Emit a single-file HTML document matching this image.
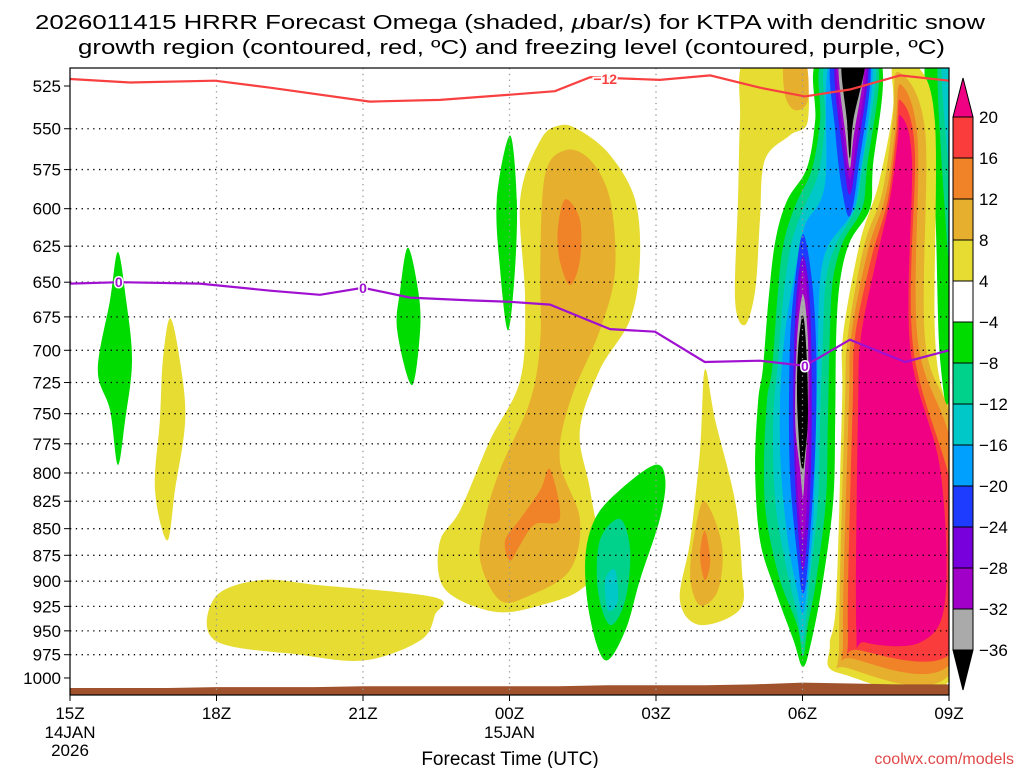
<!DOCTYPE html>
<html><head><meta charset="utf-8"><style>
html,body{margin:0;padding:0;background:#fff;}
svg{display:block;font-family:"Liberation Sans",sans-serif;}
</style></head><body>
<svg id="chart" width="1024" height="768" viewBox="0 0 1024 768" xmlns="http://www.w3.org/2000/svg">
<rect width="1024" height="768" fill="#fff"/>
<text x="35" y="29" font-size="20" textLength="950" lengthAdjust="spacingAndGlyphs">2026011415 HRRR Forecast Omega (shaded, <tspan font-style="italic">μ</tspan>bar/s) for KTPA with dendritic snow</text>
<text x="78" y="54" font-size="20" textLength="867" lengthAdjust="spacingAndGlyphs">growth region (contoured, red, ºC) and freezing level (contoured, purple, ºC)</text>
<g id="fills"></g>
<g id="grid"></g>
<g id="lines"></g>
<g id="axes"></g>
<g id="cbar"></g>
<text x="510" y="765" font-size="19" text-anchor="middle">Forecast Time (UTC)</text>
<text x="1014" y="764" font-size="16" text-anchor="end" fill="#e04848">coolwx.com/models</text>
</svg>
<script>
const pressureTicks=[525,550,575,600,625,650,675,700,725,750,775,800,825,850,875,900,925,950,975,1000];
const timeTickHours=[0,3,6,9,12,15,18];
const timeTickLabels=["15Z","18Z","21Z","00Z","03Z","06Z","09Z"];
const dateLabels=[[0,"14JAN"],[0,"2026"],[9,"15JAN"]];
const cbarLevels=[20,16,12,8,4,-4,-8,-12,-16,-20,-24,-28,-32,-36];
const cbarColors=["#f00082","#fa3c3c","#f08228","#e6af2d","#e6dc32","#ffffff","#00dc00","#00d28c","#00c8c8","#00a0ff","#1e3cff","#7800dc","#a000c8","#aaaaaa","#000000"];
const redHours=[0,1.23,2.97,4.1,6.14,7.58,9.01,9.93,10.65,12.08,13.11,14.13,15.05,15.97,17,18];
const redP=[521,523,522,526,534,533,530,528,520,521.5,519,526,531,527,519,522];
const purpHours=[0,1.02,2.66,4.1,5.12,6,6.96,8.19,9.01,9.83,11.06,11.98,13,14.13,15.05,15.97,17.1,18];
const purpP=[651,650,651,656,659,654,661,663,664,666,684,686,709,708,712,692,709,700];
const terrainHours=[0,1,2,3,4,5,6,7,8,9,10,11,12,13,14,15,16,17,18];
const terrainP=[1011,1011,1011,1010,1010,1010,1009,1009,1009,1009,1009,1008,1008,1008,1007,1005,1006,1007,1007];
// contour regions: [colour key, [[hour, pressure],...]]
const regions=[
["yellow",[[10.03,548],[9.63,557],[9.22,594],[9.32,663],[9.22,723],[8.6,772],[7.99,833],[7.58,861],[7.58,899],[7.99,919],[8.81,931],[9.63,924],[10.44,909],[10.85,880],[10.65,815],[10.44,764],[10.85,715],[11.47,677],[11.67,635],[11.57,594],[11.06,566],[10.44,551]]],
["lorange",[[10.14,563],[9.73,578],[9.63,635],[9.63,692],[9.42,740],[8.81,797],[8.5,841],[8.4,880],[8.81,919],[9.42,914],[10.24,889],[10.44,841],[10.03,789],[10.24,740],[10.85,685],[11.16,642],[11.06,594],[10.65,569]]],
["orange",[[10.14,594],[10.44,607],[10.44,635],[10.24,652],[10.03,635],[9.99,614]]],
["orange",[[9.83,797],[10.03,841],[9.52,846],[9.22,865],[9.01,880],[8.91,861],[9.22,841],[9.63,815]]],
["green",[[0.98,629],[1.15,663],[1.27,708],[1.13,755],[0.98,793],[0.82,747],[0.57,715],[0.82,663]]],
["yellow",[[2.05,676],[2.25,708],[2.36,755],[2.15,815],[1.99,861],[1.74,815],[1.84,755],[1.9,708]]],
["yellow",[[2.97,916],[3.89,899],[5.12,904],[7.47,916],[7.47,934],[7.17,960],[6.04,981],[4.71,975],[2.97,960]]],
["green",[[6.92,626],[7.13,656],[7.17,685],[7.0,727],[6.7,685],[6.76,656]]],
["green",[[9.01,554],[9.15,594],[9.11,642],[8.97,685],[8.81,642],[8.74,594]]],
["green",[[11.98,793],[11.26,815],[10.75,841],[10.55,880],[10.65,937],[10.96,981],[11.37,950],[11.67,899],[12.08,841],[12.19,806]]],
["teal",[[10.85,861],[11.26,841],[11.47,870],[11.37,919],[11.06,944],[10.81,909]]],
["cyan",[[10.96,899],[11.16,889],[11.22,919],[11.02,929]]],
["yellow",[[13.0,715],[13.21,755],[13.62,825],[13.76,889],[13.72,928],[12.9,944],[12.49,919],[12.7,861],[12.9,781]]],
["lorange",[[13.0,825],[13.35,865],[13.27,909],[12.9,924],[12.7,896],[12.8,852]]],
["orange",[[13.0,852],[13.11,880],[13.0,899],[12.9,875]]],
["yellow",[[13.82,510],[14.95,510],[15.11,545],[14.74,554],[14.23,569],[14.13,607],[14.03,656],[13.82,681],[13.62,663],[13.68,594],[13.72,545]]],
["lorange",[[14.64,510],[15.05,510],[15.11,533],[14.85,539],[14.64,530]]],
["green",[[15.32,510],[16.59,510],[16.44,574],[16.38,600],[15.97,622],[15.77,649],[15.69,689],[15.67,755],[15.63,824],[15.42,899],[15.19,959],[15.01,988],[14.81,959],[14.44,909],[14.13,861],[14.03,797],[14.09,740],[14.19,714],[14.3,664],[14.44,622],[14.68,595],[15.09,574],[15.26,545]]],
["teal",[[15.42,510],[16.53,510],[16.32,574],[16.22,600],[15.83,622],[15.62,649],[15.56,689],[15.52,755],[15.48,824],[15.28,899],[15.11,944],[15.01,977],[14.89,944],[14.54,899],[14.27,843],[14.21,797],[14.27,740],[14.38,714],[14.48,664],[14.6,625],[14.85,598],[15.19,575],[15.36,545]]],
["cyan",[[15.5,510],[16.48,510],[16.22,574],[16.08,600],[15.67,625],[15.48,649],[15.42,689],[15.36,755],[15.32,824],[15.15,899],[15.01,961],[14.89,932],[14.64,880],[14.44,824],[14.4,755],[14.5,708],[14.6,663],[14.74,628],[14.95,605],[15.32,578],[15.46,545]]],
["blue",[[15.56,510],[16.42,510],[16.14,587],[15.97,605],[15.52,625],[15.36,649],[15.32,689],[15.28,755],[15.22,843],[15.11,899],[15.01,932],[14.89,909],[14.7,861],[14.56,797],[14.54,740],[14.64,687],[14.85,642],[15.05,611],[15.46,584]]],
["dblue",[[15.6,510],[16.38,510],[16.14,575],[15.97,605],[15.81,588],[15.67,551]]],
["dblue",[[15.01,617],[15.19,648],[15.28,700],[15.26,780],[15.11,883],[15.01,912],[14.91,883],[14.74,797],[14.74,700],[14.85,648]]],
["purple",[[15.67,510],[16.34,510],[16.1,568],[15.97,591],[15.85,571]]],
["purple",[[15.01,632],[15.15,663],[15.19,740],[15.15,824],[15.01,890],[14.87,824],[14.81,740],[14.87,663]]],
["violet",[[15.71,510],[16.3,510],[16.08,562],[15.97,581],[15.87,562]]],
["violet",[[15.01,641],[15.13,677],[15.15,755],[15.09,824],[15.01,861],[14.91,824],[14.85,755],[14.89,677]]],
["gray",[[15.75,510],[16.26,510],[16.04,556],[15.97,574],[15.89,556]]],
["gray",[[15.01,659],[15.11,692],[15.11,755],[15.05,797],[15.01,821],[14.95,797],[14.85,755],[14.89,692]]],
["black",[[15.81,510],[16.28,510],[16.04,545],[15.97,568],[15.91,545]]],
["black",[[15.01,674],[15.09,708],[15.11,755],[15.05,785],[15.01,797],[14.95,785],[14.89,740],[14.91,700]]],
["green",[[17.51,510],[18.1,510],[18.1,747],[17.82,708],[17.71,594]]],
["teal",[[17.77,510],[18.1,510],[18.1,663],[17.9,594]]],
["cyan",[[17.85,510],[18.1,510],[18.1,600],[17.95,560]]],
["yellow",[[16.85,512],[17.3,512],[17.71,545],[17.71,685],[17.92,740],[18.1,755],[18.1,995],[15.77,995],[15.56,965],[15.69,919],[15.81,740],[15.83,689],[16.18,622],[16.55,585],[16.85,539]]],
["lorange",[[16.95,517],[17.51,551],[17.51,692],[18.1,772],[18.1,989],[15.9,989],[15.75,960],[15.87,740],[15.93,689],[16.26,625],[16.63,590],[16.85,545]]],
["orange",[[17.0,524],[17.36,557],[17.36,692],[18.1,789],[18.1,979],[16.02,979],[15.83,955],[15.95,740],[16.0,689],[16.34,628],[16.7,592],[16.9,551]]],
["red",[[17.0,533],[17.3,563],[17.26,696],[18.1,825],[18.1,970],[16.14,970],[15.93,950],[16.03,740],[16.08,689],[16.42,632],[16.75,594],[16.93,551]]],
["pink",[[17.0,542],[17.24,569],[17.2,696],[17.82,797],[17.92,919],[17.41,962],[16.28,962],[16.1,944],[16.14,740],[16.2,689],[16.5,636],[16.79,594],[16.95,557]]]
];
const colorMap={pink:"#f00082",red:"#fa3c3c",orange:"#f08228",lorange:"#e6af2d",yellow:"#e6dc32",green:"#00dc00",teal:"#00d28c",cyan:"#00c8c8",blue:"#00a0ff",dblue:"#1e3cff",purple:"#7800dc",violet:"#a000c8",gray:"#aaaaaa",black:"#000000"};

const X0=70,X1=949,Y0=68,Y1=695;
const NS="http://www.w3.org/2000/svg";
function x(h){return X0+(X1-X0)*h/18;}
function y(p){return 86+918.7*Math.log(p/525);}
function el(tag,attrs,parent){const e=document.createElementNS(NS,tag);for(const k in attrs)e.setAttribute(k,attrs[k]);parent.appendChild(e);return e;}
function smooth(pts){
  const n=pts.length;let d="M"+pts[0][0].toFixed(1)+","+pts[0][1].toFixed(1);
  for(let i=0;i<n;i++){const p0=pts[(i-1+n)%n],p1=pts[i],p2=pts[(i+1)%n],p3=pts[(i+2)%n];
    const c1=[p1[0]+(p2[0]-p0[0])/6,p1[1]+(p2[1]-p0[1])/6],c2=[p2[0]-(p3[0]-p1[0])/6,p2[1]-(p3[1]-p1[1])/6];
    d+="C"+c1[0].toFixed(1)+","+c1[1].toFixed(1)+" "+c2[0].toFixed(1)+","+c2[1].toFixed(1)+" "+p2[0].toFixed(1)+","+p2[1].toFixed(1);}
  return d+"Z";}
const svg=document.getElementById('chart');
const defs=el('defs',{},svg);const cp=el('clipPath',{id:'plotclip'},defs);el('rect',{x:X0,y:Y0,width:X1-X0,height:Y1-Y0},cp);
const fills=document.getElementById('fills');fills.setAttribute('clip-path','url(#plotclip)');
regions.forEach((r,i)=>{
  const pts=r[1].map(q=>[x(q[0]),y(q[1])]);
  const path=el('path',{d:smooth(pts),fill:colorMap[r[0]]},fills);
  
  
});
let td="M"+x(terrainHours[0])+","+Y1;
terrainHours.forEach((h,i)=>{td+=" L"+x(h)+","+y(terrainP[i]).toFixed(1);});
td+=" L"+x(terrainHours[terrainHours.length-1])+","+Y1+"Z";
const terr=el('path',{d:td,fill:"#a0522d"},fills);


const grid=document.getElementById('grid');
pressureTicks.forEach(p=>{if(p===525||p===1000)return;
  const l=el('line',{x1:X0,x2:X1,y1:y(p),y2:y(p),stroke:"#000","stroke-width":1.3,"stroke-dasharray":"1.3,4.5"},grid);
  
  });
timeTickHours.forEach(h=>{if(h===0||h===18)return;
  const l=el('line',{x1:x(h),x2:x(h),y1:Y0,y2:Y1,stroke:"#999","stroke-width":1.3,"stroke-dasharray":"1.3,4.5"},grid);
  
  });
const lines=document.getElementById('lines');
function polyline(hs,ps,color,name){const pts=hs.map((h,i)=>x(h).toFixed(1)+","+y(ps[i]).toFixed(1)).join(" ");
  const pl=el('polyline',{points:pts,fill:"none",stroke:color,"stroke-width":2.2},lines);
  
  }
polyline(redHours,redP,"#f84040","dgz-minus12-line");
polyline(purpHours,purpP,"#a010d0","freezing-level-line");
function clabel(h,p,txt,color,name){const t=el('text',{x:x(h),y:y(p)+5,"font-size":14,"font-weight":"bold","text-anchor":"middle",fill:color,stroke:"#fff","stroke-width":3,"paint-order":"stroke"},lines);t.textContent=txt;
  
  }
clabel(10.96,521,"−12","#f84040","contour-label-minus12");
clabel(1.0,650,"0","#a010d0","contour-label-0");
clabel(6.0,654,"0","#a010d0","contour-label-0");
clabel(15.05,712,"0","#a010d0","contour-label-0");
const axes=document.getElementById('axes');
el('rect',{x:X0,y:Y0,width:X1-X0,height:Y1-Y0,fill:"none",stroke:"#000","stroke-width":1.2},axes);
pressureTicks.forEach(p=>{
  el('line',{x1:X0-6,x2:X0,y1:y(p),y2:y(p),stroke:"#000"},axes);
  const t=el('text',{x:X0-9,y:y(p)+6,"font-size":17,"text-anchor":"end"},axes);t.textContent=p;
  
  });
timeTickHours.forEach((h,i)=>{
  el('line',{x1:x(h),x2:x(h),y1:Y1,y2:Y1+6,stroke:"#000"},axes);
  const t=el('text',{x:x(h),y:719,"font-size":17,"text-anchor":"middle"},axes);t.textContent=timeTickLabels[i];
  
  });
dateLabels.forEach((d,i)=>{const t=el('text',{x:x(d[0]),y:i===1?756:738,"font-size":17,"text-anchor":"middle"},axes);t.textContent=d[1];
  
  });
const cb=document.getElementById('cbar');const CX0=953,CX1=973,CT=117,CS=41;
el('polygon',{points:`${CX0},${CT} ${CX1},${CT} ${(CX0+CX1)/2},78`,fill:cbarColors[0],stroke:"#000"},cb);
for(let i=1;i<cbarColors.length-1;i++){
  const r=el('rect',{x:CX0,y:CT+(i-1)*CS,width:CX1-CX0,height:CS,fill:cbarColors[i],stroke:"#000"},cb);
  
  }
const last=CT+(cbarColors.length-2)*CS;
el('polygon',{points:`${CX0},${last} ${CX1},${last} ${(CX0+CX1)/2},690`,fill:cbarColors[cbarColors.length-1],stroke:"#000"},cb);
cbarLevels.forEach((v,i)=>{const t=el('text',{x:979,y:CT+i*CS+6,"font-size":17},cb);t.textContent=v<0?"−"+(-v):String(v);
  
  });
</script>
</body></html>
